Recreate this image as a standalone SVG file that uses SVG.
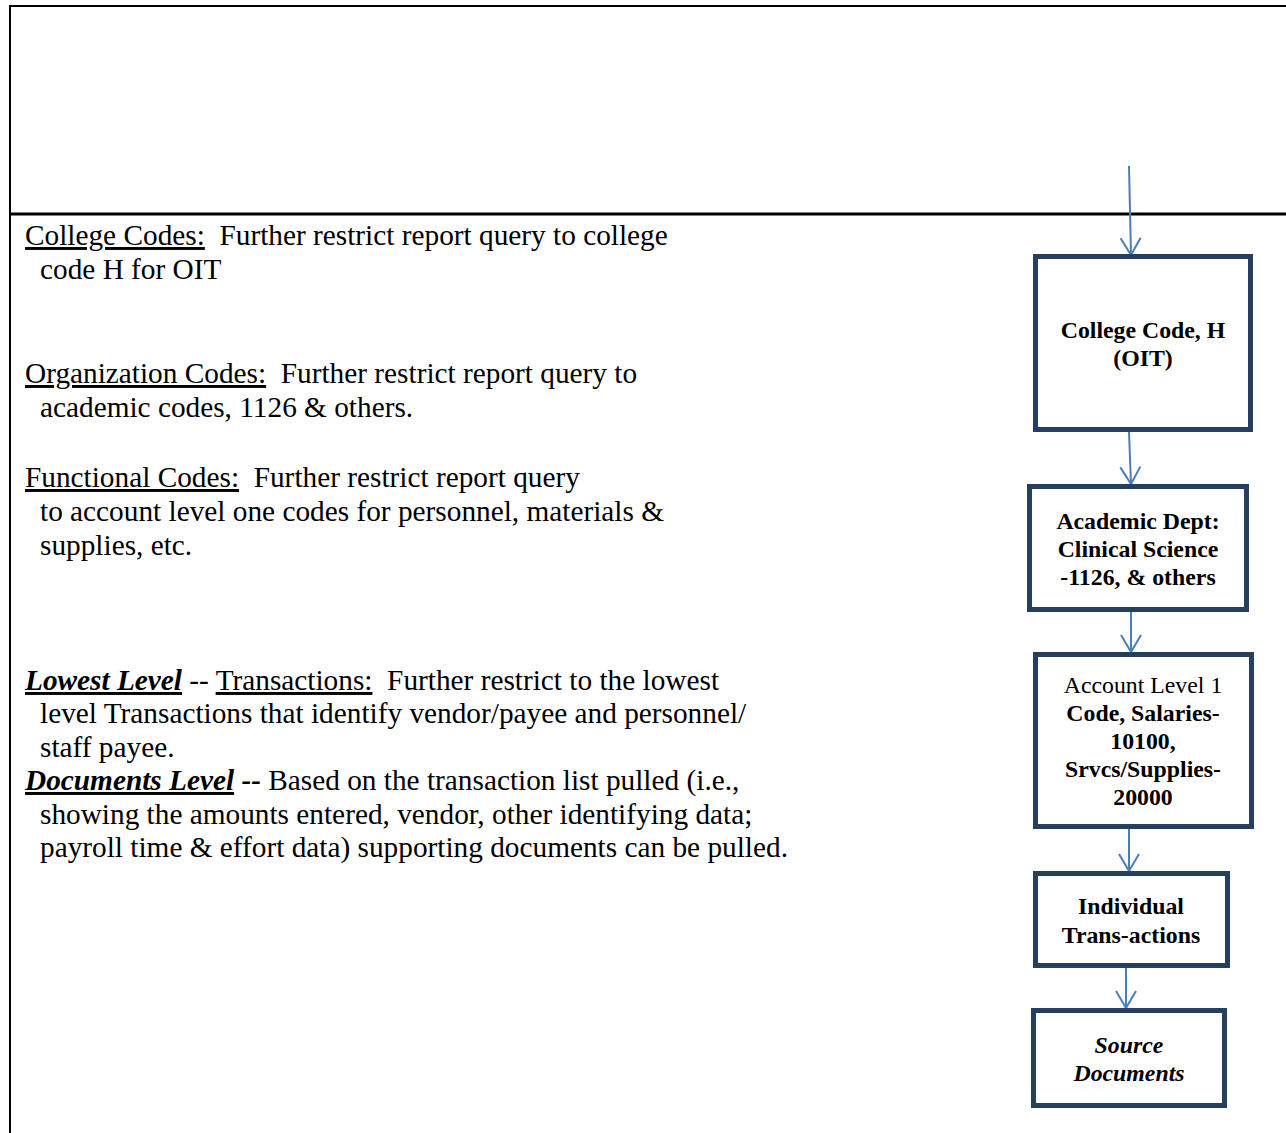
<svg xmlns="http://www.w3.org/2000/svg" width="1286" height="1133" viewBox="0 0 1286 1133">
<defs>
<style>
.t{font-family:"Liberation Serif","Times New Roman",serif;font-size:29.3px;fill:#000;white-space:pre}
.u{text-decoration:underline}
.bi{font-weight:bold;font-style:italic}
.box{fill:#fff;stroke:#243f60;stroke-width:5}
.bt{font-family:"Liberation Serif","Times New Roman",serif;font-size:23.8px;font-weight:bold;fill:#000;text-anchor:middle}
.n{font-weight:normal}
.conn{stroke:#4a7ebb;stroke-width:2;fill:none;marker-end:url(#arr)}
.frame{stroke:#000;fill:none}
</style>
<marker id="arr" markerUnits="userSpaceOnUse" markerWidth="26" markerHeight="26" viewBox="-21 -13 26 26" refX="0" refY="0" orient="auto">
<path d="M-17,-10 L0,0 L-17,10" fill="none" stroke="#4a7ebb" stroke-width="2"/>
</marker>
</defs>
<rect width="1286" height="1133" fill="#fff"/>
<g id="frame">
<line class="frame" x1="10" y1="6" x2="1286" y2="6" stroke-width="2"/>
<line class="frame" x1="10" y1="5" x2="10" y2="1133" stroke-width="2"/>
<line class="frame" x1="9" y1="214" x2="1286" y2="214" stroke-width="3"/>
</g>
<g id="descriptions">
<text class="t" x="25" y="245"><tspan class="u">College Codes:</tspan>  Further restrict report query to college</text>
<text class="t" x="40" y="279">code H for OIT</text>
<text class="t" x="25" y="383"><tspan class="u">Organization Codes:</tspan>  Further restrict report query to</text>
<text class="t" x="40" y="417">academic codes, 1126 &amp; others.</text>
<text class="t" x="25" y="487"><tspan class="u">Functional Codes:</tspan>  Further restrict report query</text>
<text class="t" x="40" y="521">to account level one codes for personnel, materials &amp;</text>
<text class="t" x="40" y="555">supplies, etc.</text>
<text class="t" x="25" y="690"><tspan class="u bi">Lowest Level</tspan> -- <tspan class="u">Transactions:</tspan>  Further restrict to the lowest</text>
<text class="t" x="40" y="723">level Transactions that identify vendor/payee and personnel/</text>
<text class="t" x="40" y="757">staff payee.</text>
<text class="t" x="25" y="790"><tspan class="u bi">Documents Level</tspan><tspan class="bi"> --</tspan> Based on the transaction list pulled (i.e.,</text>
<text class="t" x="40" y="824">showing the amounts entered, vendor, other identifying data;</text>
<text class="t" x="40" y="857">payroll time &amp; effort data) supporting documents can be pulled.</text>
</g>
<g id="connectors">
<line class="conn" x1="1129" y1="166" x2="1131" y2="255"/>
<line class="conn" x1="1129" y1="432" x2="1131" y2="484"/>
<line class="conn" x1="1131" y1="612" x2="1131" y2="652"/>
<line class="conn" x1="1129" y1="829" x2="1129" y2="871"/>
<line class="conn" x1="1126" y1="968" x2="1126" y2="1008"/>
</g>
<g id="node-college">
<rect class="box" x="1035.5" y="256.5" width="215" height="173"/>
<text class="bt" x="1143" y="338">College Code, H</text>
<text class="bt" x="1143" y="366">(OIT)</text>
</g>
<g id="node-academic">
<rect class="box" x="1029.5" y="486.5" width="217" height="123"/>
<text class="bt" x="1138" y="529">Academic Dept:</text>
<text class="bt" x="1138" y="557">Clinical Science</text>
<text class="bt" x="1138" y="585">-1126, &amp; others</text>
</g>
<g id="node-account">
<rect class="box" x="1035.5" y="654.5" width="216" height="172"/>
<text class="bt n" x="1143" y="693">Account Level 1</text>
<text class="bt" x="1143" y="721">Code, Salaries-</text>
<text class="bt" x="1143" y="749">10100,</text>
<text class="bt" x="1143" y="777">Srvcs/Supplies-</text>
<text class="bt" x="1143" y="805">20000</text>
</g>
<g id="node-transactions">
<rect class="box" x="1035.5" y="873.5" width="192" height="92"/>
<text class="bt" x="1131" y="914">Individual</text>
<text class="bt" x="1131" y="943">Trans-actions</text>
</g>
<g id="node-source">
<rect class="box" x="1033.5" y="1010.5" width="191" height="95"/>
<text class="bt" x="1129" y="1053" font-style="italic">Source</text>
<text class="bt" x="1129" y="1081" font-style="italic">Documents</text>
</g>
</svg>
